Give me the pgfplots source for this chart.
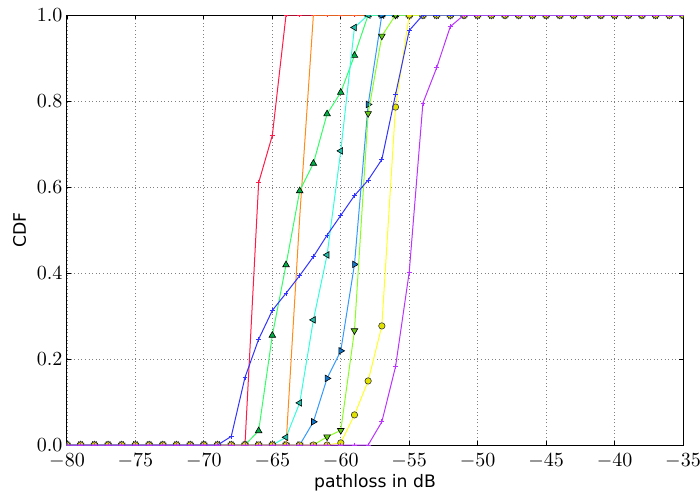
\documentclass[border=0pt]{standalone}
\usepackage[no-math]{fontspec}
\usepackage{pgfplots}
\pgfplotsset{compat=1.18}
\usepackage{pgfplotstable}
\newfontfamily\labelfont{DejaVu Sans}
\definecolor{c1}{RGB}{255,26,72}
\definecolor{c2}{RGB}{255,140,26}
\definecolor{c3}{RGB}{51,255,102}
\definecolor{c3d}{RGB}{0,175,70}
\definecolor{c4}{RGB}{51,255,221}
\definecolor{c4d}{RGB}{34,190,170}
\definecolor{c5}{RGB}{51,153,255}
\definecolor{c5d}{RGB}{17,119,204}
\definecolor{c6}{RGB}{136,255,34}
\definecolor{c6d}{RGB}{100,200,20}
\definecolor{c7}{RGB}{255,255,34}
\definecolor{c7d}{RGB}{225,225,0}
\definecolor{c8}{RGB}{51,51,255}
\definecolor{c9}{RGB}{187,51,255}
\pgfplotstableread{
x r o g c d yg y b p
-80 0 0 0 0 0 0 0 0 0
-79 0 0 0 0 0 0 0 0 0
-78 0 0 0 0 0 0 0 0 0
-77 0 0 0 0 0 0 0 0 0
-76 0 0 0 0 0 0 0 0 0
-75 0 0 0 0 0 0 0 0 0
-74 0 0 0 0 0 0 0 0 0
-73 0 0 0 0 0 0 0 0 0
-72 0 0 0 0 0 0 0 0 0
-71 0 0 0 0 0 0 0 0 0
-70 0 0 0 0 0 0 0 0 0
-69 0 0 0 0 0 0 0 0 0
-68 0 0 0 0 0 0 0 0.020 0
-67 0 0 0 0 0 0 0 0.157 0
-66 0.61 0 0.033 0 0 0 0 0.246 0
-65 0.72 0 0.255 0 0 0 0 0.313 0
-64 1 0 0.419 0.018 0 0 0 0.353 0
-63 1 0.53 0.591 0.098 0 0 0 0.394 0
-62 1 1 0.655 0.291 0.054 0 0 0.438 0
-61 1 1 0.770 0.442 0.155 0.019 0 0.488 0
-60 1 1 0.820 0.684 0.219 0.034 0.005 0.534 0
-59 1 1 0.906 0.971 0.420 0.266 0.070 0.580 0
-58 1 1 1 1 0.792 0.771 0.149 0.616 0
-57 1 1 1 1 1 0.951 0.277 0.664 0.054
-56 1 1 1 1 1 1 0.786 0.815 0.182
-55 1 1 1 1 1 1 1 0.964 0.402
-54 1 1 1 1 1 1 1 1 0.795
-53 1 1 1 1 1 1 1 1 0.877
-52 1 1 1 1 1 1 1 1 0.973
-51 1 1 1 1 1 1 1 1 1
-50 1 1 1 1 1 1 1 1 1
-49 1 1 1 1 1 1 1 1 1
-48 1 1 1 1 1 1 1 1 1
-47 1 1 1 1 1 1 1 1 1
-46 1 1 1 1 1 1 1 1 1
-45 1 1 1 1 1 1 1 1 1
-44 1 1 1 1 1 1 1 1 1
-43 1 1 1 1 1 1 1 1 1
-42 1 1 1 1 1 1 1 1 1
-41 1 1 1 1 1 1 1 1 1
-40 1 1 1 1 1 1 1 1 1
-39 1 1 1 1 1 1 1 1 1
-38 1 1 1 1 1 1 1 1 1
-37 1 1 1 1 1 1 1 1 1
-36 1 1 1 1 1 1 1 1 1
-35 1 1 1 1 1 1 1 1 1
}\cdf
\begin{document}
\begin{tikzpicture}
\begin{axis}[
  at={(0,0)}, anchor=south west,
  width=308pt, height=215pt, scale only axis,
  xmin=-80, xmax=-35, ymin=0, ymax=1,
  xtick={-80,-75,-70,-65,-60,-55,-50,-45,-40,-35},
  ytick={0,0.2,0.4,0.6,0.8,1.0},
  yticklabel style={/pgf/number format/fixed, /pgf/number format/fixed zerofill, /pgf/number format/precision=1, xshift=1.2pt},
  ticklabel style={font=\fontsize{10}{12}\selectfont},
  xticklabel style={yshift=-1pt},
  tick align=inside, major tick length=2pt,
  tick style={black, line width=0.4pt},
  grid=major,
  major grid style={black!50, line width=0.4pt, dash pattern=on 0.5pt off 1.3pt},
  axis line style={black, line width=0.5pt},
  clip mode=individual,
  clip marker paths=true,
  xlabel={\labelfont\fontsize{8.6}{10}\selectfont pathloss in dB},
  ylabel={\labelfont\fontsize{8.6}{10}\selectfont CDF},
  xlabel style={at={(axis description cs:0.5,-0.0977)}, anchor=base},
  ylabel style={at={(axis description cs:-0.0771,0.5)}, anchor=center},
  every axis plot/.append style={line width=0.5pt},
]
\addplot[c1, mark=+, mark size=1.2pt, mark options={line width=0.4pt}] table[x=x,y=r]{\cdf};
\addplot[c2, mark=none] table[x=x,y=o]{\cdf};
\addplot[c3, mark=triangle*, mark size=1.9pt, mark options={fill=c3d, draw=black, line width=0.3pt}] table[x=x,y=g]{\cdf};
\addplot[c4, mark=triangle*, mark size=1.9pt, mark options={rotate=90, fill=c4d, draw=black, line width=0.3pt}] table[x=x,y=c]{\cdf};
\addplot[c5, mark=triangle*, mark size=1.9pt, mark options={rotate=-90, fill=c5d, draw=black, line width=0.3pt}] table[x=x,y=d]{\cdf};
\addplot[c6, mark=triangle*, mark size=1.9pt, mark options={rotate=180, fill=c6d, draw=black, line width=0.3pt}] table[x=x,y=yg]{\cdf};
\addplot[c7, mark=*, mark size=1.6pt, mark options={fill=c7d, draw=black!80, line width=0.3pt}] table[x=x,y=y]{\cdf};
\addplot[c8, mark=+, mark size=1.2pt, mark options={line width=0.4pt}] table[x=x,y=b]{\cdf};
\addplot[c9, mark=+, mark size=1.2pt, mark options={line width=0.4pt}] table[x=x,y=p]{\cdf};
\end{axis}
\pgfresetboundingbox
\path (-33.5pt,-25pt) rectangle (316.5pt,222.5pt);
\end{tikzpicture}
\end{document}
